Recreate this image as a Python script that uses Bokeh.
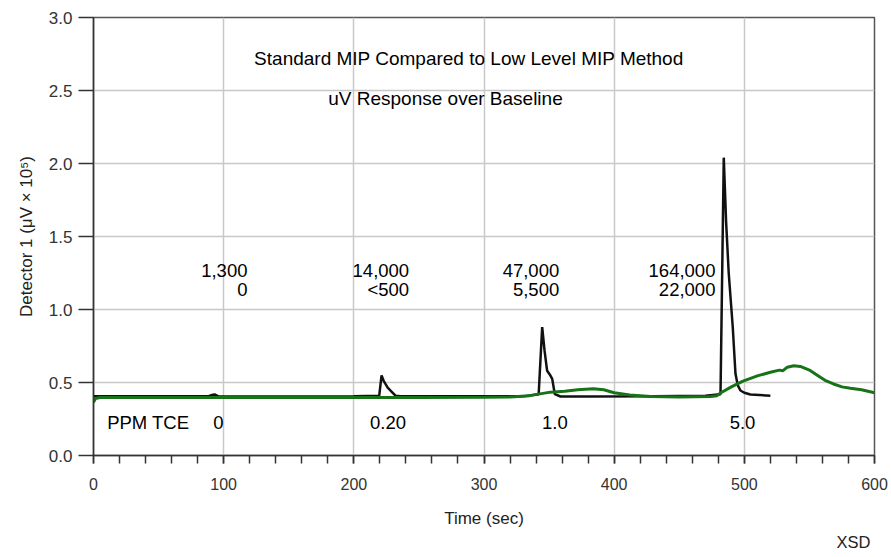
from bokeh.plotting import figure
from bokeh.models import ColumnDataSource, FixedTicker, Label, NumeralTickFormatter, Title
from bokeh.core.properties import value
from bokeh.embed import file_html
from bokeh.resources import INLINE

# ---- data ----
black_t = [0, 50, 88, 91, 93, 96, 150, 200, 219.5, 221.3, 223, 224.3, 226, 229.5, 232, 236, 280, 330,
           342, 344.7, 346.5, 348.5, 350.5, 352.4, 354.4, 358.8, 380, 430, 470,
           481.7, 484.2, 486, 488, 491.1, 493.2, 495, 497, 500, 504.7, 520]
black_v = [0.405, 0.405, 0.405, 0.415, 0.418, 0.405, 0.404, 0.405, 0.41, 0.548, 0.51, 0.49, 0.465, 0.433, 0.41, 0.406, 0.405, 0.405,
           0.42, 0.879, 0.72, 0.58, 0.555, 0.525, 0.42, 0.404, 0.404, 0.405, 0.41,
           0.42, 2.04, 1.60, 1.25, 0.88, 0.56, 0.48, 0.445, 0.43, 0.418, 0.41]

green_t = [0, 1.5, 5, 50, 100, 150, 200, 250, 300, 320, 335, 351, 362, 372, 384, 392, 400, 412, 428, 450,
           474, 479, 482, 490, 499, 510, 520, 527, 529.5, 533, 538, 543, 550, 556, 562, 568.5, 575, 581.5, 590, 600]
green_v = [0.365, 0.39, 0.397, 0.397, 0.397, 0.397, 0.397, 0.398, 0.399, 0.40, 0.41, 0.434, 0.44, 0.45, 0.457, 0.45, 0.43, 0.415, 0.404, 0.40,
           0.404, 0.41, 0.43, 0.47, 0.51, 0.545, 0.57, 0.585, 0.58, 0.605, 0.615, 0.61, 0.585, 0.55, 0.515, 0.49, 0.47, 0.46, 0.45, 0.43]

title_lines = ["Standard MIP Compared to Low Level MIP Method", "uV Response over Baseline"]
title_x = [288.5, 270.4]
title_y = [2.72, 2.447]

std_labels = ["1,300", "14,000", "47,000", "164,000"]
low_labels = ["0", "<500", "5,500", "22,000"]
resp_x = [118.3, 242.5, 357.8, 477.8]
std_y = 1.267
low_y = 1.137

ppm_labels = ["0", "0.20", "1.0", "5.0"]
ppm_x = [96, 226.3, 354.5, 498.6]
ppm_y = 0.228

x_ticks = [0, 100, 200, 300, 400, 500, 600]
y_ticks = [0.0, 0.5, 1.0, 1.5, 2.0, 2.5, 3.0]

FONT = "Liberation Sans"

p = figure(width=891, height=557, x_range=(0, 600), y_range=(0, 3),
           output_backend="svg", toolbar_location=None, tools="")
p.min_border_left = 93
p.min_border_right = 17
p.min_border_top = 17
p.min_border_bottom = 102
p.background_fill_color = "white"
p.border_fill_color = "white"
p.outline_line_color = "#555555"
p.outline_line_width = 1.5

# grid
for g in (p.xgrid, p.ygrid):
    g.grid_line_color = "#c8c8c8"
    g.grid_line_width = 1.5
p.xgrid.ticker = FixedTicker(ticks=x_ticks)
p.ygrid.ticker = FixedTicker(ticks=y_ticks)

# axes
xa = p.xaxis[0]
xa.ticker = FixedTicker(ticks=x_ticks, minor_ticks=list(range(0, 601, 20)))
xa.axis_label = "Time (sec)"
xa.major_tick_out = 8
xa.major_tick_in = 0
xa.minor_tick_out = 8
xa.minor_tick_in = 0
xa.major_label_standoff = 14
xa.axis_label_standoff = 16

ya = p.yaxis[0]
ya.ticker = FixedTicker(ticks=y_ticks)
ya.formatter = NumeralTickFormatter(format="0.0")
ya.axis_label = "Detector 1 (\u03bcV \u00d7 10\u2075)"
ya.major_tick_out = 15
ya.major_tick_in = 0
ya.minor_tick_line_color = None
ya.major_label_standoff = 6
ya.axis_label_standoff = 10

for ax in (xa, ya):
    ax.axis_line_color = "#333333"
    ax.axis_line_width = 1.5
    ax.major_tick_line_color = "#333333"
    ax.major_tick_line_width = 1.5
    ax.minor_tick_line_width = 1.5
    ax.major_label_text_font = FONT
    ax.major_label_text_font_size = "16px"
    ax.major_label_text_color = "#333333"
    ax.axis_label_text_font = FONT
    ax.axis_label_text_font_size = "17px"
    ax.axis_label_text_font_style = "normal"
    ax.axis_label_text_color = "#222222"
xa.minor_tick_line_color = "#333333"
ya.major_label_text_font_size = "17px"

# traces (green drawn over black, as in the reference)
p.line(black_t, black_v, line_color="#111111", line_width=2.5)
p.line(green_t, green_v, line_color="#177317", line_width=3)

# texts
src_title = ColumnDataSource(dict(x=title_x, y=title_y, t=title_lines))
p.text(x="x", y="y", text="t", source=src_title, text_align="center", text_baseline="middle",
       text_font=value(FONT), text_font_size="19px", text_color="black")

src_std = ColumnDataSource(dict(x=resp_x, y=[std_y] * len(resp_x), t=std_labels))
p.text(x="x", y="y", text="t", source=src_std, text_align="right", text_baseline="middle",
       text_font=value(FONT), text_font_size="18.5px", text_color="black")
src_low = ColumnDataSource(dict(x=resp_x, y=[low_y] * len(resp_x), t=low_labels))
p.text(x="x", y="y", text="t", source=src_low, text_align="right", text_baseline="middle",
       text_font=value(FONT), text_font_size="18.5px", text_color="black")

src_ppm = ColumnDataSource(dict(x=ppm_x, y=[ppm_y] * len(ppm_x), t=ppm_labels))
p.text(x="x", y="y", text="t", source=src_ppm, text_align="center", text_baseline="middle",
       text_font=value(FONT), text_font_size="18.5px", text_color="black")

p.add_layout(Label(x=10.5, y=ppm_y, text="PPM TCE", text_align="left", text_baseline="middle",
                   text_font=FONT, text_font_size="18.5px", text_color="black"))

xsd = Title(text="XSD", align="right", text_font=FONT, text_font_size="16.5px",
            text_font_style="normal", text_color="#222222", offset=4, standoff=0)
p.add_layout(xsd, "below")

open("out.html", "w").write(file_html(p, INLINE))
